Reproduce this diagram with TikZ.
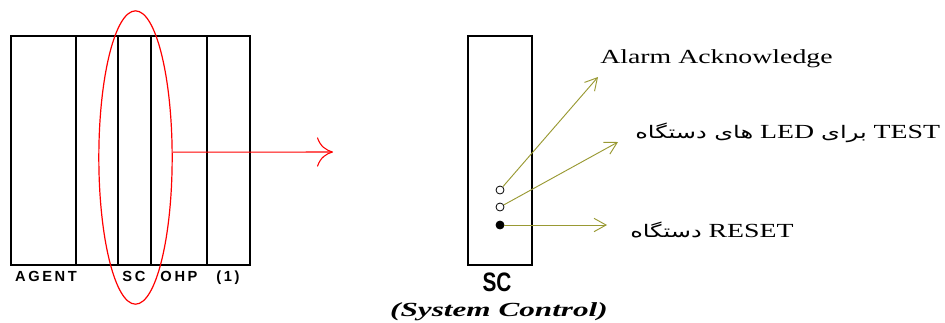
\documentclass[tikz,border=0pt]{standalone}
\usepackage{fontspec}
\setmainfont{Liberation Serif}
\newfontfamily\arabicfont[Script=Arabic]{DejaVu Sans}
\newfontfamily\slotfont[LetterSpace=18]{Liberation Sans}
\newfontfamily\cardfont{Liberation Sans}
\TeXXeTstate=1
\usetikzlibrary{arrows.meta,shapes.geometric}
\definecolor{ledline}{RGB}{153,153,51}

\tikzset{
  rackline/.style={draw=black, line width=1.1pt},
  slotlabel/.style={font=\slotfont\bfseries\fontsize{11}{13}\selectfont, inner sep=0pt},
  ledopen/.style={circle, draw=black, line width=0.6pt, fill=white, inner sep=0pt, minimum size=6pt},
  ledfull/.style={ledopen, fill=black},
  ledarrow/.style={draw=ledline, line width=0.7pt, -{Straight Barb[length=9pt,width=10pt]}},
  pointer/.style={anchor=west, inner sep=0pt, font=\fontsize{15}{18}\selectfont},
}

\begin{document}
\begin{tikzpicture}[x=0.75pt, y=-0.75pt]
    \useasboundingbox (0,0) rectangle (945,322);

    % rack with its cards
    \draw[rackline] (11,36) rectangle (250,265);
    \foreach \xs in {76,118,151,207}
        \draw[rackline] (\xs,36) -- (\xs,265);

    \node[slotlabel] (agent) at (46,276) {AGENT};
    \node[slotlabel] (sclab) at (134,276) {SC};
    \node[slotlabel] (ohp)   at (179,276) {OHP};
    \node[slotlabel] (one)   at (228,278) {(1)};

    % selected card and zoom arrow
    \node[ellipse, draw=red, line width=0.9pt, minimum width=55pt, minimum height=220pt,
          inner sep=0pt] (sel) at (135.5,157.5) {};
    \coordinate (zoomtip) at (333,152);
    \draw[red, line width=0.8pt, -{To[length=12pt,width=22pt]}] ([yshift=4pt]sel.east) -- (zoomtip);

    % the SC card itself
    \node[draw=black, line width=1.1pt, minimum width=48pt, minimum height=171.75pt,
          inner sep=0pt] (card) at (500,150.5) {};
    \node[font=\cardfont\bfseries\fontsize{20}{22}\selectfont, inner sep=0pt] (cardname)
        at (497,282) {\scalebox{0.78}[1]{SC}};
    \node[font=\bfseries\itshape\fontsize{15}{18}\selectfont, inner sep=0pt] (caption)
        at (499,312) {\scalebox{1.56}[1]{(System Control)}};

    % LEDs and push button
    \node[ledopen] (ack)   at (500,190) {};
    \node[ledopen] (test)  at (500,207) {};
    \node[ledfull] (reset) at (500,225) {};

    \coordinate (acktip)   at (598,77);
    \coordinate (testtip)  at (618,142);
    \coordinate (resettip) at (607,225);
    \draw[ledarrow] (ack) -- (acktip);
    \draw[ledarrow] (test) -- (testtip);
    \draw[ledarrow] (reset) -- (resettip);

    \node[pointer] (acktext) at (600,59) {\scalebox{1.39}[1]{Alarm Acknowledge}};
    \node[pointer] (testtext) at (635,133) {\scalebox{1.39}[1]{\beginR\beginL TEST\endL{} {\arabicfont\fontsize{13}{15}\selectfont برای} \beginL LED\endL{} {\arabicfont\fontsize{13}{15}\selectfont های دستگاه}\endR}};
    \node[pointer] (resettext) at (630,230) {\scalebox{1.39}[1]{\beginR\beginL RESET\endL{} {\arabicfont\fontsize{13}{15}\selectfont دستگاه}\endR}};
\end{tikzpicture}
\end{document}
